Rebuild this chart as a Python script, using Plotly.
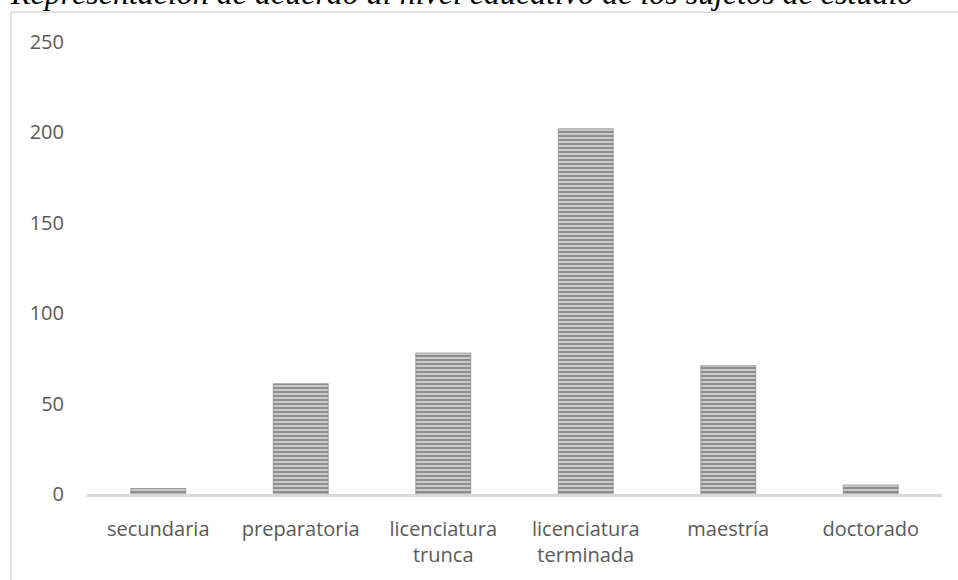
import plotly.graph_objects as go

# Nivel educativo de los sujetos de estudio
categorias = ["secundaria", "preparatoria", "licenciatura<br>trunca",
              "licenciatura<br>terminada", "maestría", "doctorado"]
frecuencias = [3, 61, 78, 202, 71, 5]
y_ticks = [0, 50, 100, 150, 200, 250]

titulo = "Representación de acuerdo al nivel educativo de los sujetos de estudio"

W, H = 958, 580
ML, MR, MT, MB = 87, 16, 42, 84
plot_w = W - ML - MR
plot_h = H - MT - MB


def px_x(px):
    return (px - ML) / plot_w


def px_y(py):
    return (H - MB - py) / plot_h


fig = go.Figure()
fig.add_trace(go.Bar(
    x=categorias,
    y=frecuencias,
    marker=dict(
        color="#d8d8d8",
        line=dict(color="#7a7a7a", width=0.6),
        pattern=dict(shape="-", fgcolor="#404040", bgcolor="#dadada",
                     size=4, solidity=0.6, fillmode="overlay"),
    ),
    hoverinfo="x+y",
))

fig.update_layout(
    width=W, height=H,
    margin=dict(l=ML, r=MR, t=MT, b=MB, pad=0),
    paper_bgcolor="white",
    plot_bgcolor="white",
    bargap=0.614,
    showlegend=False,
    font=dict(family="Open Sans", size=20, color="#595959"),
    xaxis=dict(
        showgrid=False,
        showline=True,
        linecolor="#d9d9d9",
        linewidth=2.5,
        ticks="",
        ticklabelstandoff=15,
        tickfont=dict(family="Open Sans", size=20, color="#595959"),
        fixedrange=True,
    ),
    yaxis=dict(
        range=[0, 250],
        tickvals=y_ticks,
        showgrid=False,
        zeroline=False,
        showline=False,
        ticks="",
        ticklabelstandoff=22,
        tickfont=dict(family="Open Sans", size=20, color="#595959"),
        fixedrange=True,
    ),
    shapes=[dict(
        type="rect", xref="paper", yref="paper",
        x0=px_x(11), x1=px_x(962), y0=px_y(600), y1=px_y(12),
        line=dict(color="#d9d9d9", width=1.5),
        fillcolor="rgba(0,0,0,0)",
        layer="below",
    )],
    annotations=[dict(
        text=titulo,
        xref="paper", yref="paper",
        x=px_x(8), y=px_y(13),
        xanchor="left", yanchor="bottom",
        showarrow=False,
        font=dict(family="Liberation Serif", size=32, color="#000000",
                  style="italic"),
    )],
)

fig.write_html("out.html")
